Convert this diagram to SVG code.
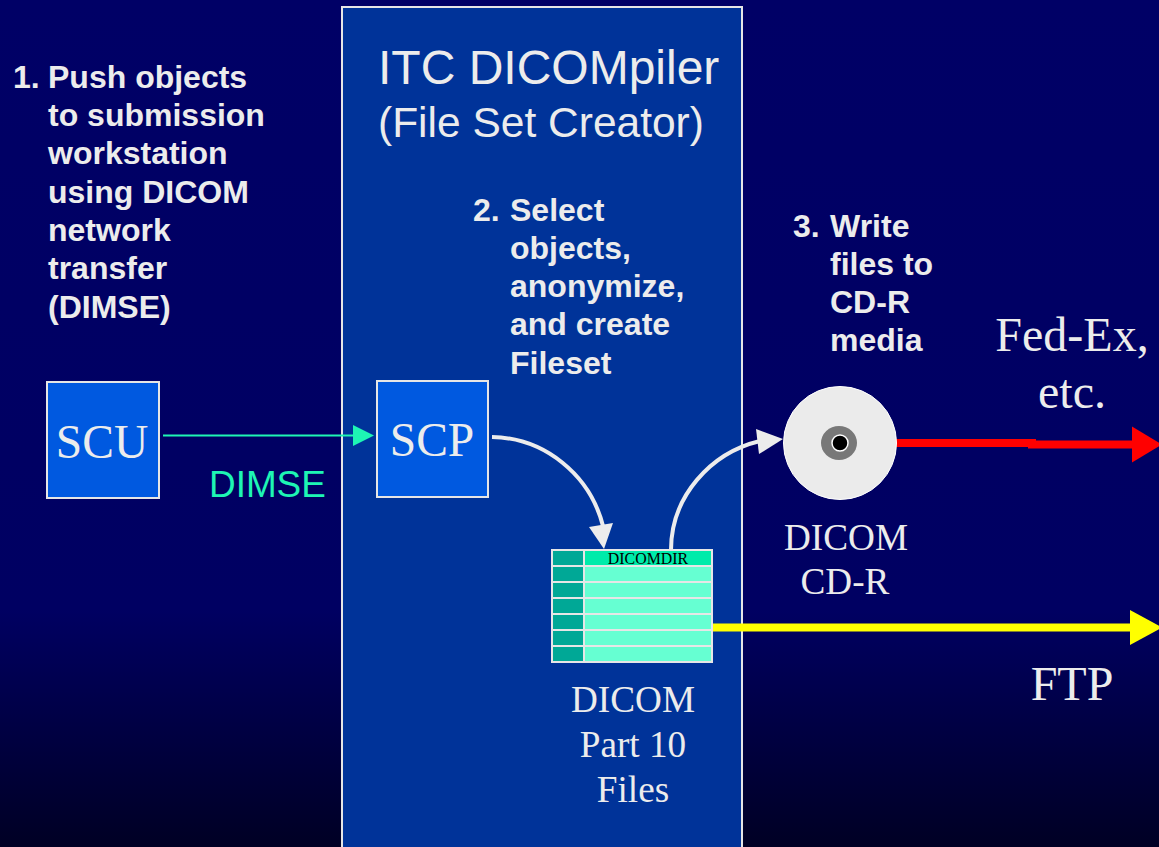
<svg xmlns="http://www.w3.org/2000/svg" width="1159" height="847" viewBox="0 0 1159 847">
<style>
.b{font-family:"Liberation Sans",Arial,sans-serif;font-weight:bold;font-size:32px;fill:#ececec}
.s{font-family:"Liberation Serif","Times New Roman",serif;font-size:37.200px;fill:#ececec;text-anchor:middle}
.big{font-size:48px}
.mid{font-size:47.500px}
.box{fill:#0059e0;stroke:#e6e6e6;stroke-width:2}
.dk{fill:#00a896;stroke:#e6e6e6;stroke-width:2}
.lt{fill:#66ffd2;stroke:#e6e6e6;stroke-width:2}
.wl{fill:none;stroke:#ececec;stroke-width:4}
</style>
<defs>
<linearGradient id="bg" x1="0" y1="0" x2="0" y2="1">
<stop offset="0" stop-color="#000066"/><stop offset="0.72" stop-color="#000062"/><stop offset="1" stop-color="#000024"/>
</linearGradient>
</defs>
<rect width="1159" height="847" fill="url(#bg)"/>
<g id="panel">
<rect x="342" y="7" width="400" height="845" fill="#003399" stroke="#e6e6e6" stroke-width="2"/>
<text x="378" y="84" font-family="'Liberation Sans',Arial,sans-serif" font-size="48" fill="#ececec">ITC DICOMpiler</text>
<text x="378" y="137" font-family="'Liberation Sans',Arial,sans-serif" font-size="42.500" fill="#ececec">(File Set Creator)</text>
</g>
<g id="step1" class="b">
<text x="13" y="88">1.</text>
<text x="48" y="88">Push objects</text>
<text x="48" y="126">to submission</text>
<text x="48" y="164">workstation</text>
<text x="48" y="203">using DICOM</text>
<text x="48" y="241">network</text>
<text x="48" y="279">transfer</text>
<text x="48" y="318">(DIMSE)</text>
</g>
<g id="step2" class="b">
<text x="473" y="221">2.</text>
<text x="510" y="221">Select</text>
<text x="510" y="259">objects,</text>
<text x="510" y="297">anonymize,</text>
<text x="510" y="335">and create</text>
<text x="510" y="374">Fileset</text>
</g>
<g id="step3" class="b">
<text x="793" y="237">3.</text>
<text x="830" y="237">Write</text>
<text x="830" y="275">files to</text>
<text x="830" y="313">CD-R</text>
<text x="830" y="351">media</text>
</g>
<g id="connectors">
<path d="M163 435.500H360" fill="none" stroke="#1ef5b4" stroke-width="2"/>
<polygon points="374,435.500 353,425 353,446" fill="#1ef5b4"/>
<path class="wl" d="M492 437C545 438 590 475 603 526"/>
<polygon points="604,549 589,527 613,523" fill="#ececec"/>
<path class="wl" d="M671 550C671 497 710 453 760 441"/>
<polygon points="783,439 756,429 759,454" fill="#ececec"/>
<path d="M895 443H1036" fill="none" stroke="#f00" stroke-width="8"/>
<path d="M1028 444.500H1135" fill="none" stroke="#f00" stroke-width="8"/>
<polygon points="1162,444.500 1132,426.500 1132,462.500" fill="#f00"/>
<path d="M712 627.500H1132" fill="none" stroke="#ff0" stroke-width="8"/>
<polygon points="1162,627.500 1130,610 1130,645" fill="#ff0"/>
</g>
<g id="scu">
<rect class="box" x="47" y="382" width="112" height="116"/>
<text class="s mid" x="102" y="458">SCU</text>
</g>
<g id="scp">
<rect class="box" x="377" y="381" width="111" height="116"/>
<text class="s mid" x="432" y="456">SCP</text>
</g>
<g id="dimse-label">
<text x="209" y="497" font-family="'Liberation Sans',Arial,sans-serif" font-size="36.900" fill="#1ef5b4">DIMSE</text>
</g>
<g id="cd">
<circle cx="840" cy="443" r="56.500" fill="#ebebeb" stroke="#fff" stroke-width="1"/>
<ellipse cx="839" cy="443" rx="18" ry="17" fill="#787878"/>
<circle cx="840" cy="443" r="8" fill="#000" stroke="#fff" stroke-width="1.500"/>
<text class="s" x="846" y="550">DICOM</text>
<text class="s" x="845" y="594">CD-R</text>
</g>
<g id="fileset">
<rect class="dk" x="552" y="550" width="32" height="16"/>
<rect x="584" y="550" width="128" height="16" fill="#00ebaa" stroke="#e6e6e6" stroke-width="2"/>
<rect class="dk" x="552" y="566" width="32" height="16"/><rect class="lt" x="584" y="566" width="128" height="16"/>
<rect class="dk" x="552" y="582" width="32" height="16"/><rect class="lt" x="584" y="582" width="128" height="16"/>
<rect class="dk" x="552" y="598" width="32" height="16"/><rect class="lt" x="584" y="598" width="128" height="16"/>
<rect class="dk" x="552" y="614" width="32" height="16"/><rect class="lt" x="584" y="614" width="128" height="16"/>
<rect class="dk" x="552" y="630" width="32" height="16"/><rect class="lt" x="584" y="630" width="128" height="16"/>
<rect class="dk" x="552" y="646" width="32" height="16"/><rect class="lt" x="584" y="646" width="128" height="16"/>
<text x="648" y="564" font-family="'Liberation Serif','Times New Roman',serif" font-size="15.900" fill="#000" text-anchor="middle">DICOMDIR</text>
<text class="s" x="633" y="712">DICOM</text>
<text class="s" x="633" y="757">Part 10</text>
<text class="s" x="633" y="802">Files</text>
</g>
<g id="fedex-label">
<text class="s big" x="1072" y="351">Fed-Ex,</text>
<text class="s big" x="1072" y="408">etc.</text>
</g>
<g id="ftp-label">
<text class="s big" x="1072" y="700">FTP</text>
</g>
</svg>
